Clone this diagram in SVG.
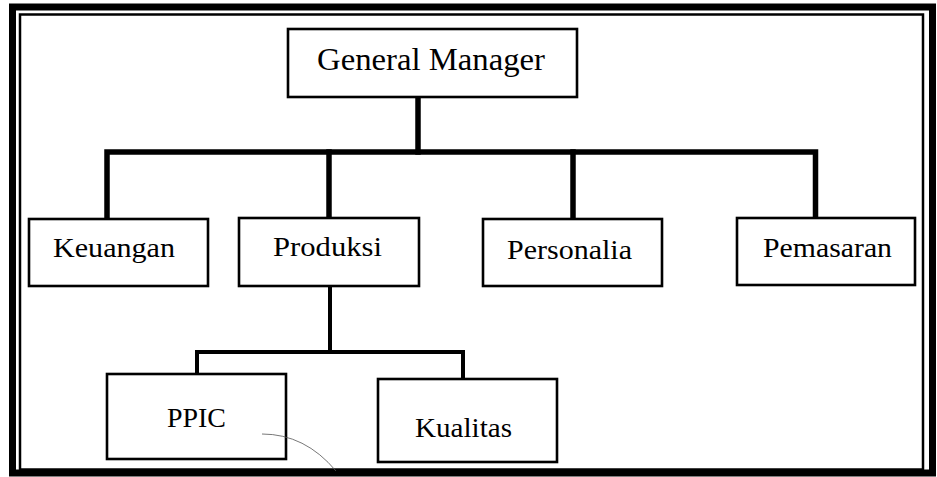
<svg xmlns="http://www.w3.org/2000/svg" width="937" height="477" viewBox="0 0 937 477">
  <style>
    .box { fill: #fff; stroke: #000; stroke-width: 2.6; }
    .lbl { font-family: "Liberation Serif", "Times New Roman", serif; font-size: 27px; fill: #000; }
    .top { font-size: 32px; }
    .main { fill: none; stroke: #000; stroke-width: 5.5; stroke-linejoin: miter; stroke-linecap: square; }
    .sub { fill: none; stroke: #000; stroke-width: 4; stroke-linejoin: miter; stroke-linecap: butt; }
  </style>

  <rect width="937" height="477" fill="#fff"/>

  <!-- double frame; the inner line runs into the heavy bottom edge -->
  <rect x="12.5" y="7" width="920" height="466" fill="none" stroke="#000" stroke-width="7"/>
  <rect x="20" y="14.5" width="903" height="455" fill="none" stroke="#000" stroke-width="2.5"/>

  <!-- connectors -->
  <g id="connectors">
    <path class="main" d="M418,97 V152"/>
    <path class="main" d="M107,217 V152 H815.5 V217"/>
    <path class="main" d="M329,152 V218"/>
    <path class="main" d="M573,152 V218"/>
    <path class="sub" d="M330,286 V352"/>
    <path class="sub" d="M197,374 V352 H463 V379"/>
  </g>

  <g id="general-manager">
    <rect class="box" x="288" y="29" width="289" height="68" stroke-width="3"/>
    <text class="lbl top" x="317" y="70" textLength="228" lengthAdjust="spacingAndGlyphs">General Manager</text>
  </g>

  <g id="keuangan">
    <rect class="box" x="29" y="219" width="179" height="67"/>
    <text class="lbl" x="53" y="257" textLength="122" lengthAdjust="spacingAndGlyphs">Keuangan</text>
  </g>

  <g id="produksi">
    <rect class="box" x="239" y="218" width="180" height="68"/>
    <text class="lbl" x="273" y="256" textLength="109" lengthAdjust="spacingAndGlyphs">Produksi</text>
  </g>

  <g id="personalia">
    <rect class="box" x="483" y="219" width="179" height="67"/>
    <text class="lbl" x="507" y="259" textLength="125" lengthAdjust="spacingAndGlyphs">Personalia</text>
  </g>

  <g id="pemasaran">
    <rect class="box" x="737" y="218" width="178" height="67"/>
    <text class="lbl" x="763" y="257" textLength="129" lengthAdjust="spacingAndGlyphs">Pemasaran</text>
  </g>

  <g id="ppic">
    <rect class="box" x="107" y="374" width="179" height="85"/>
    <text class="lbl" x="167" y="427" textLength="59" lengthAdjust="spacingAndGlyphs">PPIC</text>
  </g>

  <g id="kualitas">
    <rect class="box" x="378" y="379" width="179" height="83"/>
    <text class="lbl" x="415" y="437" textLength="97" lengthAdjust="spacingAndGlyphs">Kualitas</text>
  </g>

  <!-- faint pencil stroke -->
  <path d="M262,434 Q305,434 336,471" fill="none" stroke="#555" stroke-width="0.8"/>
</svg>
